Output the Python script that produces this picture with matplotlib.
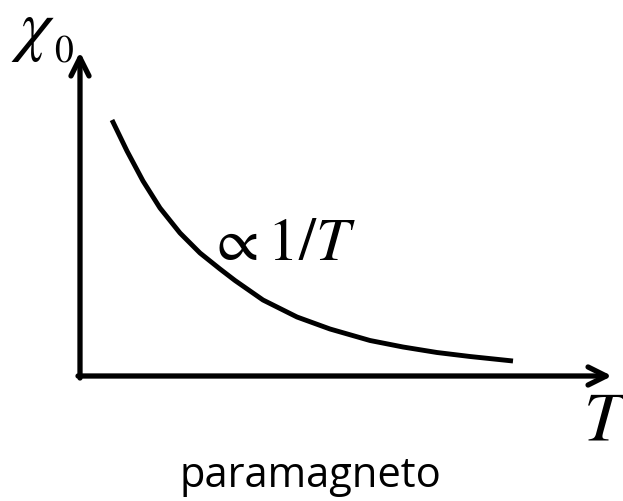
import matplotlib
matplotlib.use("Agg")
import matplotlib.pyplot as plt

plt.rcParams["mathtext.fontset"] = "stix"

# Susceptibility curve of a paramagnet (arbitrary units)
temperature = [0.32, 0.47, 0.63, 0.80, 1.00, 1.20, 1.40, 1.55, 1.83, 2.17,
               2.50, 2.90, 3.23, 3.57, 3.90, 4.33]
chi = [2.56, 2.25, 1.95, 1.68, 1.43, 1.23, 1.07, 0.955, 0.76, 0.59,
       0.47, 0.355, 0.29, 0.235, 0.195, 0.15]

x_axis_end = 5.32
y_axis_end = 3.24

fig = plt.figure(figsize=(6.23, 5.01), dpi=100)
ax = fig.add_axes([0, 0, 1, 1])
ax.set_xlim(-0.80, 5.43)
ax.set_ylim(-1.25, 3.76)
ax.axis("off")

arrow = dict(arrowstyle="->,head_length=1.3,head_width=0.65", lw=3.8,
             color="black", shrinkA=0, shrinkB=0, capstyle="round")
ax.annotate("", xy=(x_axis_end, 0), xytext=(-0.02, 0), arrowprops=arrow)
ax.annotate("", xy=(0, y_axis_end), xytext=(0, -0.02), arrowprops=arrow)

ax.plot(temperature, chi, color="black", lw=3.5, solid_capstyle="butt",
        solid_joinstyle="round")

ax.text(-0.69, 3.28, r"$\chi$", fontsize=50, ha="left", va="baseline")
ax.text(-0.26, 3.15, r"$\mathrm{0}$", fontsize=27, ha="left", va="baseline")
ax.text(1.28, 1.16, r"$\propto 1/T$", fontsize=44, ha="left", va="baseline")
ax.text(5.03, -0.64, r"$T$", fontsize=50, ha="left", va="baseline")
ax.text(2.30, -1.11, "paramagneto", fontsize=30, family="Open Sans",
        ha="center", va="baseline")

fig.savefig("out.png", dpi=100)
